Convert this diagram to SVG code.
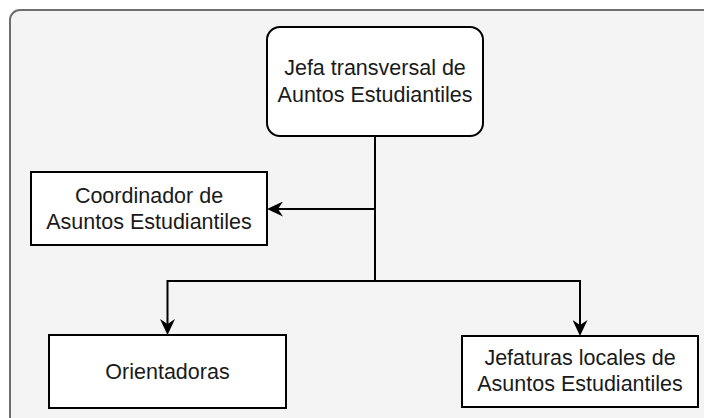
<svg xmlns="http://www.w3.org/2000/svg" width="704" height="418" viewBox="0 0 704 418">
<style>
.bg{fill:#f4f4f4;stroke:#6e6e6e;stroke-width:2}
.node{fill:#ffffff;stroke:#000000;stroke-width:2}
.lbl{font-family:"Liberation Sans",Arial,sans-serif;font-size:21.5px;fill:#1a1a1a;text-anchor:middle}
.edge{fill:none;stroke:#000000;stroke-width:2}
</style>
<defs>
<marker id="arr" markerUnits="userSpaceOnUse" viewBox="0 0 16 15" refX="5" refY="7.5" markerWidth="16" markerHeight="15" orient="auto">
<path d="M16,7.5 L0,0 L5,7.5 L0,15 Z" fill="#000000"/>
</marker>
</defs>
<rect width="704" height="418" fill="#ffffff"/>
<rect class="bg" x="10" y="10" width="720" height="440" rx="10"/>
<g id="connectors">
<path class="edge" d="M375,136 V281"/>
<path class="edge" d="M375,209 H278" marker-end="url(#arr)"/>
<path class="edge" d="M375,281 H167.5 V324" marker-end="url(#arr)"/>
<path class="edge" d="M375,281 H580 V325" marker-end="url(#arr)"/>
</g>
<g id="jefa">
<rect class="node" x="267" y="27" width="216" height="109" rx="13"/>
<text class="lbl" x="375" y="75">Jefa transversal de</text>
<text class="lbl" x="375" y="102">Auntos Estudiantiles</text>
</g>
<g id="coordinador">
<rect class="node" x="31" y="172" width="236" height="73"/>
<text class="lbl" x="149" y="202.5">Coordinador de</text>
<text class="lbl" x="149" y="229">Asuntos Estudiantiles</text>
</g>
<g id="orientadoras">
<rect class="node" x="49" y="335" width="237" height="73"/>
<text class="lbl" x="167.5" y="378.5">Orientadoras</text>
</g>
<g id="jefaturas">
<rect class="node" x="462" y="336" width="236" height="71"/>
<text class="lbl" x="580" y="364.5">Jefaturas locales de</text>
<text class="lbl" x="580" y="391">Asuntos Estudiantiles</text>
</g>
</svg>
